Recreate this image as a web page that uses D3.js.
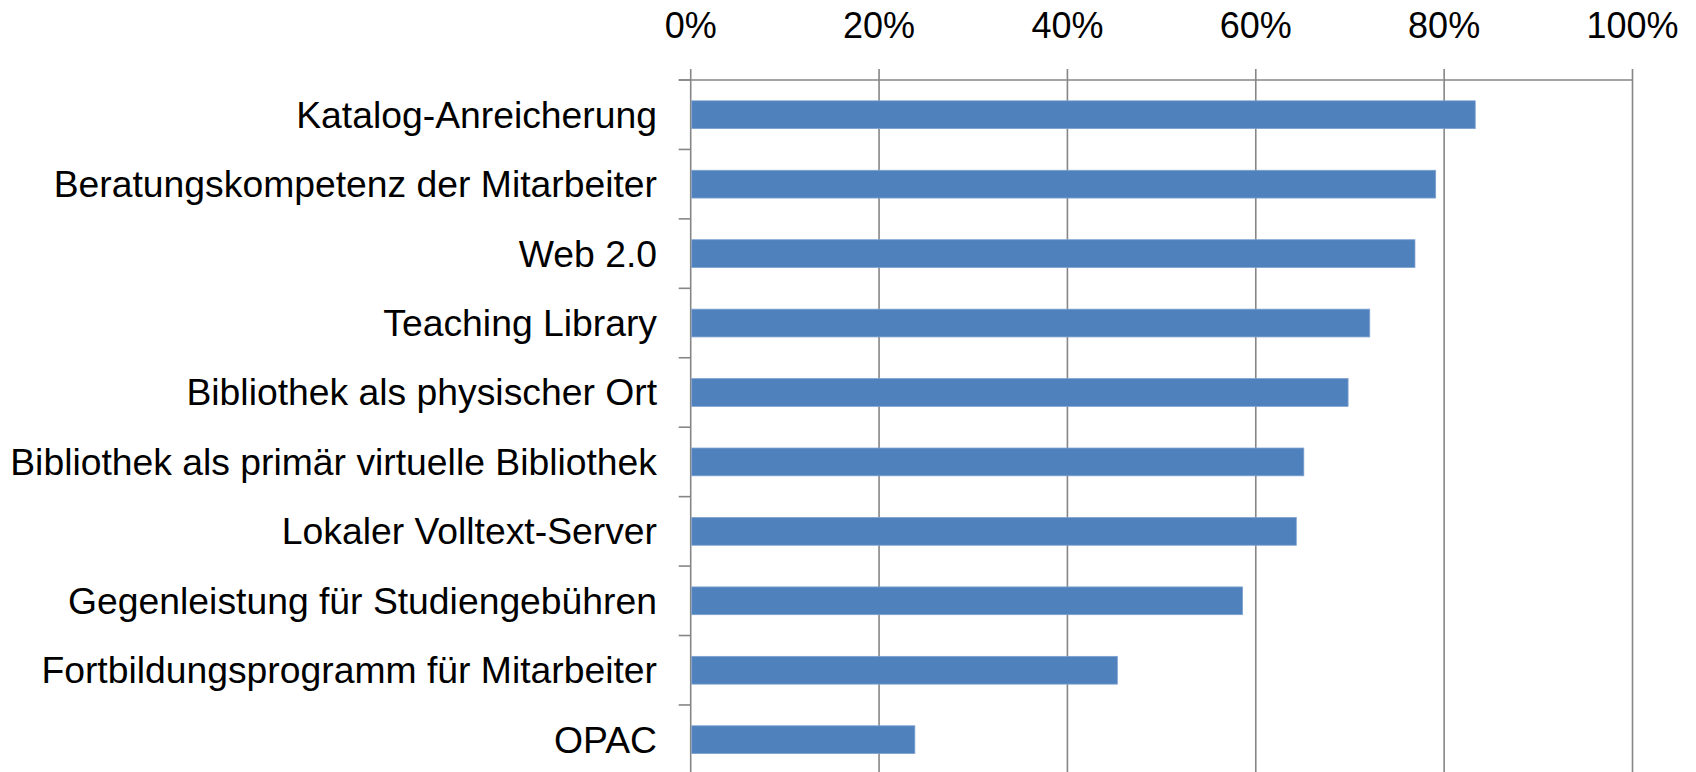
<!DOCTYPE html>
<html>
<head>
<meta charset="utf-8">
<script src="https://cdn.jsdelivr.net/npm/d3@7/dist/d3.min.js"></script>
<style>
  html, body { margin: 0; padding: 0; background: #ffffff; }
  svg { display: block; }
  text { font-family: "Liberation Sans", Arial, sans-serif; fill: #000; }
</style>
</head>
<body>
<svg id="chart" width="1696" height="772"></svg>
<script>
// Survey items, top to bottom
const categories = [
  "Katalog-Anreicherung",
  "Beratungskompetenz der Mitarbeiter",
  "Web 2.0",
  "Teaching Library",
  "Bibliothek als physischer Ort",
  "Bibliothek als primär virtuelle Bibliothek",
  "Lokaler Volltext-Server",
  "Gegenleistung für Studiengebühren",
  "Fortbildungsprogramm für Mitarbeiter",
  "OPAC"
];
// Share of agreement per item (fraction of 1)
const values = [0.833, 0.791, 0.769, 0.721, 0.698, 0.651, 0.643, 0.586, 0.453, 0.238];
// Axis ticks
const tickValues = [0, 0.2, 0.4, 0.6, 0.8, 1.0];
const tickLabels = ["0%", "20%", "40%", "60%", "80%", "100%"];

const svg = d3.select("#chart");
const gridColor = "#868686";
const barColor = "#4F81BD";

const x0 = 690.7, x1 = 1632.5;
const yTop = 80, step = 69.44;
const yBottom = yTop + step * categories.length;

const x = d3.scaleLinear().domain([0, 1]).range([x0, x1]);
const y = d3.scaleBand()
  .domain(categories)
  .range([yTop, yBottom])
  .paddingInner(0.6)
  .paddingOuter(0.3);

// Vertical gridlines, extended above the axis line as tick marks
svg.append("g").selectAll("line")
  .data(tickValues)
  .join("line")
  .attr("x1", d => x(d)).attr("x2", d => x(d))
  .attr("y1", yTop - 11).attr("y2", yBottom)
  .attr("stroke", gridColor).attr("stroke-width", 1.6);

// Top axis line
svg.append("line")
  .attr("x1", x0 - 12).attr("x2", x1)
  .attr("y1", yTop).attr("y2", yTop)
  .attr("stroke", gridColor).attr("stroke-width", 1.6);

// Category separator ticks on the left axis
const boundaries = d3.range(categories.length + 1).map(i => yTop + i * step);
svg.append("g").selectAll("line")
  .data(boundaries)
  .join("line")
  .attr("x1", x0 - 12).attr("x2", x0)
  .attr("y1", d => d).attr("y2", d => d)
  .attr("stroke", gridColor).attr("stroke-width", 1.6);

// Bars
svg.append("g").selectAll("rect")
  .data(categories.map((c, i) => ({ c, v: values[i] })))
  .join("rect")
  .attr("x", x(0) + 1)
  .attr("y", d => y(d.c))
  .attr("width", d => x(d.v) - x(0) - 1)
  .attr("height", y.bandwidth())
  .attr("fill", barColor)
  .attr("stroke", "#7da1cf")
  .attr("stroke-width", 0.8);

// Tick labels along the top
svg.append("g").selectAll("text")
  .data(tickValues)
  .join("text")
  .attr("x", d => x(d))
  .attr("y", 38)
  .attr("text-anchor", "middle")
  .attr("font-size", 36)
  .text((d, i) => tickLabels[i]);

// Category labels
svg.append("g").selectAll("text")
  .data(categories)
  .join("text")
  .attr("x", 657)
  .attr("y", d => y(d) + y.bandwidth() / 2 + 13)
  .attr("text-anchor", "end")
  .attr("font-size", 37.3)
  .text(d => d);
</script>
</body>
</html>
